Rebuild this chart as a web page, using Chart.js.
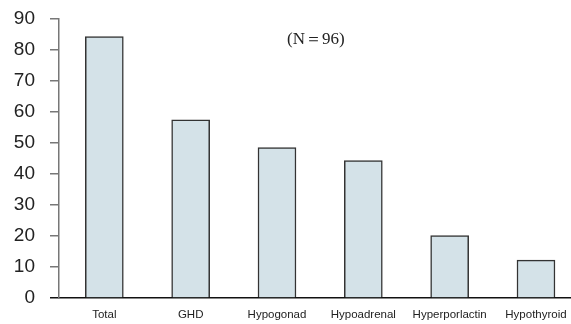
<!DOCTYPE html>
<html>
<head>
<meta charset="utf-8">
<script src="https://cdn.jsdelivr.net/npm/chart.js@4.4.1/dist/chart.umd.min.js"></script>
<style>
  html, body { margin: 0; padding: 0; background: #fff; }
  #wrap { width: 571px; height: 324px; }
</style>
</head>
<body>
<div id="wrap"><canvas id="chart" width="571" height="324"></canvas></div>
<script>
const categories = ["Total", "GHD", "Hypogonad", "Hypoadrenal", "Hyperporlactin", "Hypothyroid"];
const percentValues = [84.3, 57.5, 48.5, 44.3, 20.1, 12.2];
const yTicks = [0, 10, 20, 30, 40, 50, 60, 70, 80, 90];
const noteText = "(N\uFF1D96)";

// bars sit at index positions on a linear x scale
const barPoints = categories.map((c, i) => ({ x: i, y: percentValues[i] }));

const notePlugin = {
  id: "note",
  afterDraw(chart) {
    const ctx = chart.ctx;
    const x = chart.scales.x.getPixelForValue(2.45);
    const y = chart.scales.y.getPixelForValue(83.5);
    ctx.save();
    ctx.font = "17px 'Liberation Serif', serif";
    ctx.fillStyle = "#222";
    ctx.textAlign = "center";
    ctx.textBaseline = "middle";
    ctx.fillText(noteText, x, y);
    ctx.restore();
  }
};

new Chart(document.getElementById("chart"), {
  type: "bar",
  data: {
    datasets: [{
      data: barPoints,
      backgroundColor: "#d4e2e8",
      borderColor: "#333",
      borderWidth: 1.5,
      barThickness: 38,
      borderSkipped: "bottom"
    }]
  },
  options: {
    responsive: false,
    animation: false,
    layout: { padding: { top: 0, right: 1, left: 0, bottom: 0 } },
    plugins: { legend: { display: false }, tooltip: { enabled: false } },
    scales: {
      x: {
        type: "linear",
        offset: false,
        min: -0.525,
        max: 5.394,
        grid: { display: false, drawTicks: false },
        border: { color: "#111", width: 1.5 },
        afterBuildTicks(scale) {
          scale.ticks = categories.map((c, i) => ({ value: i }));
        },
        afterFit(scale) {
          scale.height = 26;
          scale.paddingLeft = 0;
          scale.paddingRight = 0;
        },
        ticks: {
          autoSkip: false,
          maxRotation: 0,
          padding: 10,
          color: "#222",
          font: { family: "'Liberation Sans', Arial, sans-serif", size: 11.5 },
          callback: (v) => categories[v]
        }
      },
      y: {
        min: 0,
        max: 90,
        afterBuildTicks(scale) {
          scale.ticks = yTicks.map(v => ({ value: v }));
        },
        afterFit(scale) {
          scale.width = 59;
          scale.paddingTop = 19;
          scale.paddingBottom = 0;
        },
        grid: {
          drawOnChartArea: false,
          tickLength: 9,
          color: (c) => (c.tick && c.tick.value === 0 ? "#111" : "#777"),
          lineWidth: 1.5
        },
        border: { color: "#777", width: 1.5 },
        ticks: {
          padding: 15,
          color: "#222",
          font: { family: "'Liberation Sans', Arial, sans-serif", size: 19 }
        }
      }
    }
  },
  plugins: [notePlugin]
});
</script>
</body>
</html>
